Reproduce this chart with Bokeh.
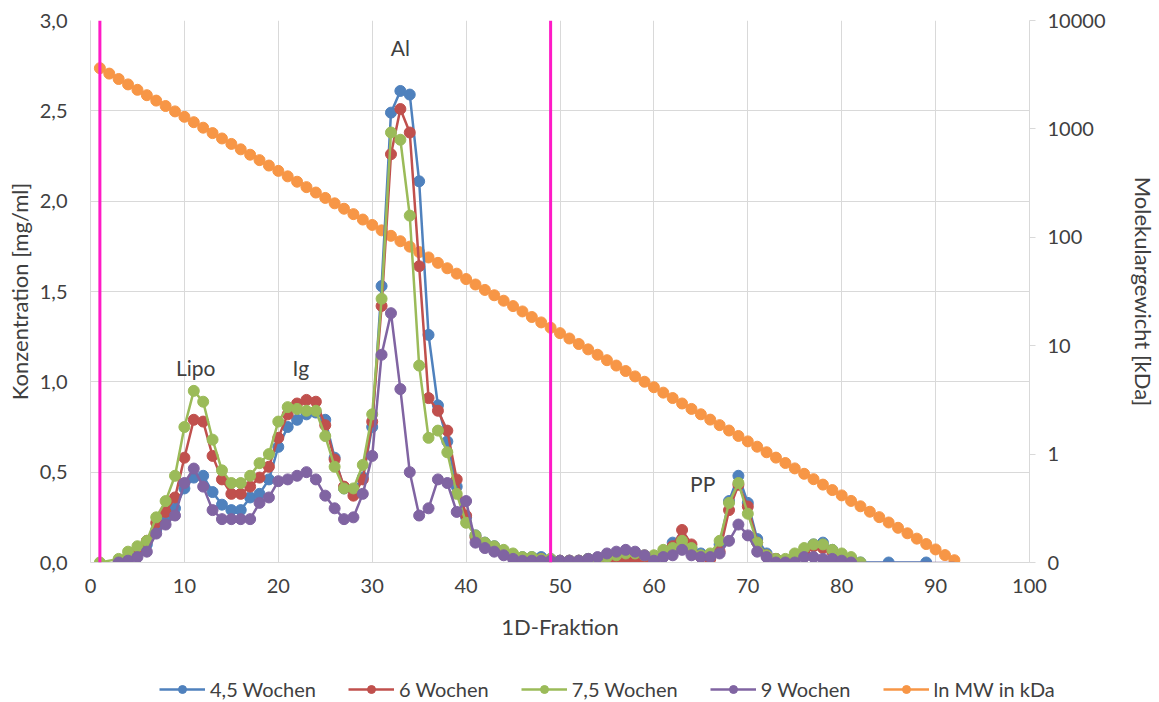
from bokeh.plotting import figure
from bokeh.models import (Range1d, LogScale, LogAxis, FixedTicker, CustomJSTickFormatter,
                          Legend, LegendItem, Label, Span)
from bokeh.embed import file_html
from bokeh.resources import INLINE

# ---------------- data ----------------
x_ticks = [0, 10, 20, 30, 40, 50, 60, 70, 80, 90, 100]
y_ticks = [0.0, 0.5, 1.0, 1.5, 2.0, 2.5, 3.0]
mw_ticks = [0.1, 1, 10, 100, 1000, 10000]

frac_3_82 = list(range(3, 83))

blue_x = frac_3_82 + [85, 89]
blue_y = [0.01, 0.03, 0.06, 0.10, 0.18, 0.24, 0.30, 0.41, 0.47, 0.48,
          0.39, 0.32, 0.29, 0.29, 0.36, 0.38, 0.46, 0.64, 0.75, 0.79,
          0.82, 0.83, 0.79, 0.58, 0.41, 0.40, 0.47, 0.75, 1.53, 2.49,
          2.61, 2.59, 2.11, 1.26, 0.87, 0.67, 0.42, 0.25, 0.15, 0.11,
          0.09, 0.06, 0.04, 0.03, 0.03, 0.03, 0.02, 0.01, 0.01, 0.01,
          0.02, 0.02, 0.03, 0.04, 0.04, 0.04, 0.03, 0.02, 0.05, 0.11,
          0.13, 0.08, 0.05, 0.04, 0.10, 0.34, 0.48, 0.33, 0.13, 0.05,
          0.02, 0.01, 0.03, 0.06, 0.10, 0.11, 0.07, 0.04, 0.02, 0.00,
          0.00, 0.00]

red_x = frac_3_82[:-1]
red_y = [0.01, 0.03, 0.06, 0.12, 0.22, 0.28, 0.36, 0.58, 0.79, 0.78,
         0.59, 0.46, 0.38, 0.38, 0.42, 0.47, 0.53, 0.69, 0.82, 0.88,
         0.90, 0.89, 0.76, 0.57, 0.42, 0.37, 0.46, 0.78, 1.42, 2.26,
         2.51, 2.38, 1.64, 0.91, 0.84, 0.73, 0.46, 0.26, 0.14, 0.10,
         0.08, 0.05, 0.03, 0.02, 0.02, 0.02, 0.01, 0.01, 0.01, 0.01,
         0.01, 0.01, 0.02, 0.02, 0.02, 0.02, 0.01, 0.01, 0.04, 0.09,
         0.18, 0.10, 0.03, 0.02, 0.06, 0.29, 0.43, 0.31, 0.11, 0.04,
         0.02, 0.01, 0.03, 0.06, 0.09, 0.08, 0.06, 0.03, 0.01]

green_x = [1] + frac_3_82
green_y = [0.00,
           0.02, 0.06, 0.09, 0.12, 0.25, 0.34, 0.48, 0.75, 0.95, 0.89,
           0.68, 0.51, 0.44, 0.44, 0.48, 0.55, 0.60, 0.78, 0.86, 0.85,
           0.84, 0.84, 0.70, 0.53, 0.41, 0.41, 0.54, 0.82, 1.46, 2.38,
           2.34, 1.92, 1.09, 0.69, 0.73, 0.61, 0.38, 0.22, 0.15, 0.11,
           0.09, 0.07, 0.05, 0.03, 0.03, 0.02, 0.02, 0.01, 0.01, 0.01,
           0.02, 0.02, 0.03, 0.04, 0.05, 0.05, 0.04, 0.04, 0.07, 0.08,
           0.12, 0.08, 0.04, 0.05, 0.12, 0.33, 0.44, 0.27, 0.11, 0.04,
           0.02, 0.02, 0.05, 0.08, 0.10, 0.10, 0.07, 0.05, 0.03, 0.00]

purple_x = frac_3_82[:-1]
purple_y = [0.00, 0.01, 0.03, 0.06, 0.16, 0.21, 0.26, 0.44, 0.52, 0.42,
            0.29, 0.24, 0.24, 0.24, 0.24, 0.33, 0.36, 0.45, 0.46, 0.48,
            0.50, 0.46, 0.37, 0.30, 0.24, 0.25, 0.38, 0.59, 1.15, 1.38,
            0.96, 0.50, 0.26, 0.30, 0.46, 0.44, 0.28, 0.34, 0.11, 0.08,
            0.06, 0.04, 0.02, 0.01, 0.01, 0.01, 0.01, 0.01, 0.01, 0.01,
            0.02, 0.03, 0.05, 0.06, 0.07, 0.06, 0.04, 0.01, 0.03, 0.04,
            0.07, 0.04, 0.03, 0.03, 0.05, 0.12, 0.21, 0.15, 0.06, 0.03,
            0.00, 0.00, 0.00, 0.03, 0.03, 0.02, 0.02, 0.01, 0.00]
purple_tail_x = [81, 92]
purple_tail_y = [0.0, 0.0]

mw_x = list(range(1, 93))
mw_kda = [3631, 3237, 2886, 2573, 2294, 2046, 1824, 1626, 1450, 1293,
          1153, 1026, 915, 816, 727, 648, 578, 515, 459, 410,
          365, 325.6, 290.3, 258.8, 230.8, 205.8, 183.5, 163.6, 145.8, 130.0,
          115.9, 103.2, 92.0, 82.0, 73.1, 65.2, 58.1, 51.8, 46.2, 41.2,
          36.7, 32.7, 29.2, 26.0, 23.2, 20.7, 18.4, 16.4, 14.65, 13.06,
          11.65, 10.37, 9.25, 8.25, 7.35, 6.56, 5.84, 5.21, 4.65, 4.14,
          3.69, 3.29, 2.93, 2.61, 2.33, 2.08, 1.85, 1.65, 1.47, 1.31,
          1.17, 1.04, 0.928, 0.828, 0.738, 0.658, 0.587, 0.523, 0.466, 0.416,
          0.370, 0.330, 0.294, 0.262, 0.234, 0.209, 0.186, 0.166, 0.148, 0.132,
          0.117, 0.105]

fraction_markers = [1, 49]

ann_text = ["Lipo", "Ig", "Al", "PP"]
ann_x = [11.2, 22.4, 33.0, 65.2]
ann_y = [1.08, 1.08, 2.85, 0.44]

series_names = ["4,5 Wochen", "6 Wochen", "7,5 Wochen", "9 Wochen", "ln MW in kDa"]

# ---------------- style ----------------
FONT = "Lato"
TXT = "#404040"
GRID = "#d9d9d9"
C_BLUE, C_RED, C_GREEN, C_PURPLE, C_ORANGE = "#4F81BD", "#C0504D", "#9BBB59", "#8064A2", "#F79646"
C_MAGENTA = "#FF1AC6"
LW, MS = 2.5, 11

series = [(blue_x, blue_y, C_BLUE), (red_x, red_y, C_RED),
          (green_x, green_y, C_GREEN), (purple_x, purple_y, C_PURPLE),
          (mw_x, mw_kda, C_ORANGE)]

p = figure(width=1159, height=650, x_range=Range1d(0, 100), y_range=Range1d(0, 3),
           output_backend="svg", toolbar_location=None,
           min_border_left=90, min_border_right=129, min_border_top=20, min_border_bottom=88)
p.outline_line_color = None

p.extra_y_ranges = {"mw": Range1d(0.1, 10000)}
p.extra_y_scales = {"mw": LogScale()}

p.xaxis.ticker = FixedTicker(ticks=x_ticks)
p.yaxis.ticker = FixedTicker(ticks=y_ticks)
p.yaxis.formatter = CustomJSTickFormatter(code="return tick.toFixed(1).replace('.', ',');")
for ax in (p.xaxis[0], p.yaxis[0]):
    ax.axis_line_color = GRID
    ax.major_tick_line_color = None
    ax.minor_tick_line_color = None
    ax.major_label_text_font = FONT
    ax.major_label_text_font_size = "20px"
    ax.major_label_text_color = TXT
    ax.axis_label_text_font = FONT
    ax.axis_label_text_font_size = "22px"
    ax.axis_label_text_font_style = "normal"
    ax.axis_label_text_color = TXT
p.xaxis.axis_label = "1D-Fraktion"
p.xaxis.major_label_standoff = 10
p.xaxis.axis_label_standoff = 17
p.yaxis.axis_label = "Konzentration [mg/ml]"
p.yaxis.major_label_standoff = 17
p.yaxis.axis_label_standoff = 4

raxis = LogAxis(y_range_name="mw", ticker=FixedTicker(ticks=mw_ticks),
                formatter=CustomJSTickFormatter(code="return tick < 1 ? '0' : tick.toFixed(0);"))
raxis.axis_label = "Molekulargewicht [kDa]"
raxis.axis_line_color = GRID
raxis.major_tick_line_color = GRID
raxis.major_tick_out = 6
raxis.major_tick_in = 0
raxis.minor_tick_line_color = None
raxis.major_label_standoff = 12
raxis.major_label_text_font = FONT
raxis.major_label_text_font_size = "20px"
raxis.major_label_text_color = TXT
raxis.axis_label_text_font = FONT
raxis.axis_label_text_font_size = "22px"
raxis.axis_label_text_font_style = "normal"
raxis.axis_label_text_color = TXT
raxis.axis_label_standoff = 21
p.add_layout(raxis, "right")

p.xgrid.grid_line_color = GRID
p.ygrid.grid_line_color = GRID

# series: orange (secondary axis) first, then the four concentration series
p.line(mw_x, mw_kda, y_range_name="mw", color=C_ORANGE, line_width=LW)
p.scatter(mw_x, mw_kda, y_range_name="mw", size=MS, color=C_ORANGE)
for xs, ys, col in series[:4]:
    p.line(xs, ys, color=col, line_width=LW)
    p.scatter(xs, ys, size=MS, color=col)
p.line(purple_tail_x, purple_tail_y, color=C_PURPLE, line_width=1.5)

for fx in fraction_markers:
    p.add_layout(Span(location=fx, dimension="height", line_color=C_MAGENTA, line_width=3))

for t, ax_, ay_ in zip(ann_text, ann_x, ann_y):
    p.add_layout(Label(x=ax_, y=ay_, text=t, text_align="center", text_baseline="middle",
                       text_font=FONT, text_font_size="21px", text_color=TXT))

# ---------------- legend strip (separate root, data kept out of its view) ----------------
lg = figure(width=1159, height=52, x_range=Range1d(0, 1), y_range=Range1d(-20001, -20000),
            output_backend="svg", toolbar_location=None,
            x_axis_location=None, y_axis_location=None, min_border=0)
lg.outline_line_color = None
lg.xgrid.visible = False
lg.ygrid.visible = False
items = []
for name, (xs, ys, col) in zip(series_names, series):
    ln = lg.line(xs, ys, color=col, line_width=LW)
    sc = lg.scatter(xs, ys, size=MS - 1, color=col)
    items.append(LegendItem(label=name, renderers=[ln, sc]))
legend = Legend(items=items, orientation="horizontal", location=(159, 1),
                glyph_width=46, glyph_height=20, label_height=20, label_standoff=5,
                spacing=32, padding=0, margin=0,
                label_text_font=FONT, label_text_font_size="20px", label_text_color=TXT,
                background_fill_alpha=0, border_line_color=None)
lg.add_layout(legend, "center")

open("out.html", "w").write(file_html([p, lg], INLINE))
